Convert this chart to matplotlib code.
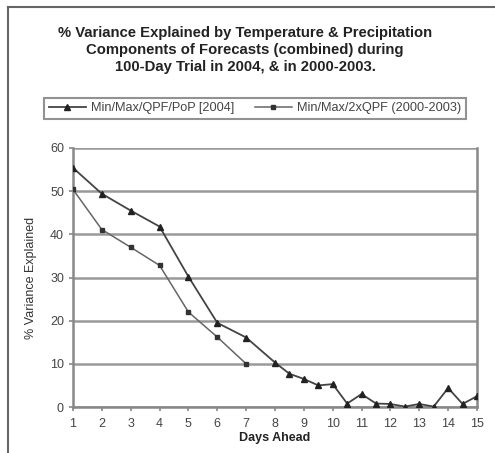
import matplotlib
matplotlib.use("Agg")
import matplotlib.pyplot as plt
from matplotlib.lines import Line2D

# Data
days_2004 = [1, 2, 3, 4, 5, 6, 7, 8, 8.5, 9, 9.5, 10, 10.5, 11, 11.5,
             12, 12.5, 13, 13.5, 14, 14.5, 15]
var_2004 = [55.4, 49.4, 45.5, 41.8, 30.2, 19.5, 16.1, 10.3, 7.7, 6.5, 5.0,
            5.3, 0.8, 3.0, 0.8, 0.7, 0.1, 0.7, 0.1, 4.4, 0.7, 2.5]
days_0003 = [1, 2, 3, 4, 5, 6, 7]
var_0003 = [50.4, 41.1, 37.0, 32.8, 22.0, 16.2, 10.0]

label_2004 = "Min/Max/QPF/PoP [2004]"
label_0003 = "Min/Max/2xQPF (2000-2003)"
title = ("% Variance Explained by Temperature & Precipitation\n"
         "Components of Forecasts (combined) during\n"
         "100-Day Trial in 2004, & in 2000-2003.")
x_ticks = list(range(1, 16))
y_ticks = [0, 10, 20, 30, 40, 50, 60]

plt.rcParams["font.family"] = ["Liberation Sans", "DejaVu Sans"]

fig = plt.figure(figsize=(4.95, 4.53), dpi=100)
ax = fig.add_axes([73 / 495, 1 - 407 / 453, (477 - 73) / 495, (407 - 148) / 453])

ax.plot(days_2004, var_2004, color="#444444", lw=1.3, marker="^",
        ms=4.5, mfc="#222222", mec="#222222", label=label_2004, zorder=3)
ax.plot(days_0003, var_0003, color="#666666", lw=1.1, marker="s",
        ms=3.5, mfc="#333333", mec="#333333", label=label_0003, zorder=3)

ax.set_xlim(1, 15)
ax.set_ylim(0, 60)
ax.set_xticks(x_ticks)
ax.set_yticks(y_ticks)
ax.yaxis.grid(True, color="#999999", lw=1.8)
ax.set_axisbelow(True)
for side in ["left", "bottom", "right", "top"]:
    ax.spines[side].set_color("#888888")
    ax.spines[side].set_linewidth(1.8)
ax.spines["top"].set_visible(False)
ax.tick_params(axis="both", colors="#888888", labelcolor="#444444",
               labelsize=9, length=3, width=1.2)
ax.tick_params(axis="x", pad=5)

ax.set_xlabel("Days Ahead", fontsize=9, fontweight="bold", color="#222222",
              labelpad=1)
ax.set_ylabel("% Variance Explained", fontsize=9, color="#333333",
              labelpad=9)

fig.text(0.495, 1 - 50 / 453, title, ha="center", va="center",
         fontsize=10.7, fontweight="bold", color="#222222", linespacing=1.3)

leg = fig.legend(loc="center", bbox_to_anchor=(255 / 495, 1 - 108.5 / 453),
                 ncol=2, fontsize=9.2, frameon=True, fancybox=False,
                 edgecolor="#777777", handlelength=2.9, handletextpad=0.4,
                 columnspacing=1.6, borderpad=0.35, borderaxespad=0)
leg.get_frame().set_linewidth(1.5)
for t in leg.get_texts():
    t.set_color("#444444")

# outer chart frame (left and top edges visible)
fig.add_artist(Line2D([8 / 495, 8 / 495], [0, 1 - 7 / 453],
                      transform=fig.transFigure, color="#666666", lw=1.5))
fig.add_artist(Line2D([8 / 495, 1], [1 - 7 / 453, 1 - 7 / 453],
                      transform=fig.transFigure, color="#666666", lw=1.5))

fig.savefig("out.png", dpi=100)
